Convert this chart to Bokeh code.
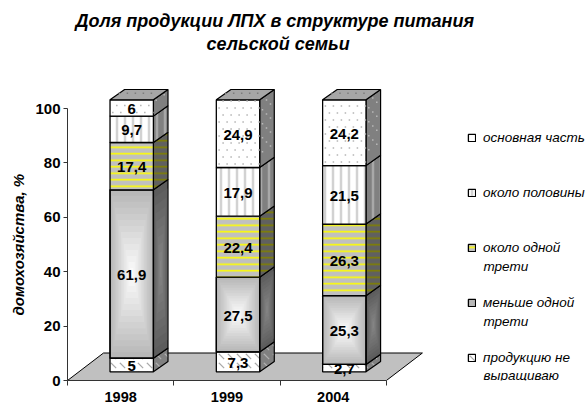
from bokeh.plotting import figure
from bokeh.models import Range1d, FixedTicker, Legend, LegendItem, Title, Label
from bokeh.core.properties import value
from bokeh.embed import file_html
from bokeh.resources import INLINE

years = ["1998", "1999", "2004"]
none_grown = [5, 7.3, 2.7]
under_third = [61.9, 27.5, 25.3]
about_third = [17.4, 22.4, 26.3]
about_half = [9.7, 17.9, 21.5]
main_part = [6, 24.9, 24.2]
series_names = ["продукцию не", "меньше одной", "около одной", "около половины", "основная часть"]
series_names_2 = ["выращиваю", "трети", "трети", "", ""]
series = [none_grown, under_third, about_third, about_half, main_part]
y_ticks = [0, 20, 40, 60, 80, 100]
title_lines = ["Доля продукции ЛПХ в структуре питания", "сельской семьи"]
y_title = "домохозяйства, %"

FONT = "Liberation Sans"
PX_X, PX_Y = 106.3, 2.72          # pixels per data unit
BAR_L, BAR_W = 0.40, 0.408        # bar front, within a category
DX, DY = 14.6 / PX_X, 10.3 / PX_Y  # depth of the 3D extrusion
LIFT = 3.2                        # front plane lift above the axis
FW, FH = 520, 380                 # the frame reaches the top edge so the title lines sit inside it

p = figure(width=587, height=406, output_backend="svg",
           toolbar_location=None, x_range=Range1d(0, FW / PX_X), y_range=Range1d(0, FH / PX_Y),
           min_border_left=67, min_border_right=0, min_border_top=0, min_border_bottom=26,
           outline_line_color=None, background_fill_color="white", border_fill_color="white")
p.grid.visible = False
p.title = None
# chart title: two centred lines above the bars
for line, off, rise in ((title_lines[0], 8, 360), (title_lines[1], 139, 337)):
    p.add_layout(Label(x=off / PX_X, y=rise / PX_Y, text=line, text_font=FONT,
                       text_font_style="bold italic", text_font_size="18px", text_color="black",
                       text_baseline="middle"))
p.add_layout(Title(text=y_title, align="left", offset=65, text_font=FONT,
                   text_font_style="bold italic", text_font_size="15px", text_color="black",
                   standoff=12), "left")

# axes
ax = p.yaxis[0]
ax.ticker = FixedTicker(ticks=y_ticks)
ax.bounds = (0, 100)
ax.major_label_text_font = FONT
ax.major_label_text_font_style = "bold"
ax.major_label_text_font_size = "15px"
ax.major_label_text_color = "black"
ax.major_label_standoff = 3
ax.major_tick_in = 0
ax.major_tick_out = 4
ax.minor_tick_out = 0
ax.minor_tick_in = 0
ax.axis_line_color = "#333333"
ax.major_tick_line_color = "#333333"

bx = p.xaxis[0]
bx.ticker = FixedTicker(ticks=[0.5, 1.5, 2.5], minor_ticks=[0, 1, 2, 3])
bx.bounds = (0, 3)
bx.major_label_overrides = {0.5: years[0], 1.5: years[1], 2.5: years[2]}
bx.major_label_text_font = FONT
bx.major_label_text_font_style = "bold"
bx.major_label_text_font_size = "14.5px"
bx.major_label_text_color = "black"
bx.major_label_standoff = 6
bx.major_tick_in = 0
bx.major_tick_out = 0
bx.minor_tick_in = 0
bx.minor_tick_out = 5
bx.axis_line_color = "#333333"
bx.minor_tick_line_color = "#333333"

# floor
fx, fy = 36 / PX_X, 27.5 / PX_Y
p.patch([0, 3, 3 + fx, fx], [0, 0, fy, fy], fill_color="#c0c0c0", line_color="black", line_width=1)


def lerp(a, b, t):
    c = [round(a[k] + (b[k] - a[k]) * t) for k in range(3)]
    return "#%02x%02x%02x" % tuple(c)


styles = [
    dict(front=dict(fill_color="white", hatch_pattern="left_diagonal_dash", hatch_color="#a8a8a8",
                    hatch_scale=9, hatch_weight=1.2),
         side=dict(fill_color="#808080", hatch_pattern="left_diagonal_dash", hatch_color="#b0b0b0",
                   hatch_scale=9, hatch_weight=1.2)),
    dict(front=dict(fill_color="#b8b8b8"), side=dict(fill_color="#5c5c5c")),
    dict(front=dict(fill_color="#c0c0c0", hatch_pattern="horizontal_line", hatch_color="#ffff00",
                    hatch_scale=6.5, hatch_weight=1.6),
         side=dict(fill_color="#606060", hatch_pattern="horizontal_line", hatch_color="#808000",
                   hatch_scale=6.5, hatch_weight=1.6)),
    dict(front=dict(fill_color="white", hatch_pattern="vertical_line", hatch_color="#d2d2d2",
                    hatch_scale=8, hatch_weight=2.5),
         side=dict(fill_color="#808080", hatch_pattern="vertical_line", hatch_color="#a8a8a8",
                   hatch_scale=8, hatch_weight=2.5)),
    dict(front=dict(fill_color="white"), side=dict(fill_color="#808080")),
]

STEP_X, STEP_Y = 8 / PX_X, 7 / PX_Y     # sparse dot texture of the top segment


def dots(x0, x1, y0, y1, skew=0.0, nudge=True):
    """Staggered dots inside a box; skew lifts y with x for the extruded faces."""
    xs, ys = [], []
    row = 0
    y = y0 + STEP_Y / 2
    while y < y1:
        x = x0 + STEP_X * (0.35 if row % 2 == 0 or not nudge else 0.85)
        while x < x1:
            xs.append(x)
            ys.append(y + skew * (x - x0))
            x += STEP_X
        y += STEP_Y
        row += 1
    return xs, ys


legend_items = []
tx, ty, tl = [], [], []
dot_front, dot_side, dot_top = ([], []), ([], []), ([], [])
for i in range(len(years)):
    xl, xr = i + BAR_L, i + BAR_L + BAR_W
    base = LIFT
    for s, vals in enumerate(series):
        v = vals[i]
        y0, y1 = base, base + v
        st = styles[s]
        # side
        p.patch([xr, xr + DX, xr + DX, xr], [y0, y0 + DY, y1 + DY, y1], line_color="black",
                line_width=1.2, **st["side"])
        if s == 1:
            n = 10
            mx, my = xr + DX / 2, (y0 + y1 + DY) / 2
            for k in range(1, n):
                t = k / n
                xs = [mx + (q - mx) * (1 - t) for q in [xr, xr + DX, xr + DX, xr]]
                ys = [my + (q - my) * (1 - t) for q in [y0, y0 + DY, y1 + DY, y1]]
                p.patch(xs, ys, fill_color=lerp((0x5c,) * 3, (0x88,) * 3, t), line_color=None)
        # front
        r = p.quad(left=xl, right=xr, bottom=y0, top=y1, line_color="black", line_width=1.3,
                   **st["front"])
        if s == 1:
            n = 14
            mx, my = (xl + xr) / 2, (y0 + y1) / 2
            for k in range(1, n):
                t = k / n
                p.quad(left=mx - (mx - xl) * (1 - t), right=mx + (xr - mx) * (1 - t),
                       bottom=my - (my - y0) * (1 - t), top=my + (y1 - my) * (1 - t),
                       fill_color=lerp((0xb8,) * 3, (0xff,) * 3, t), line_color=None)
            p.quad(left=xl, right=xr, bottom=y0, top=y1, fill_color=None, line_color="black",
                   line_width=1.3)
        if s == 4:
            a, b = dots(xl, xr, y0, y1)
            dot_front[0].extend(a); dot_front[1].extend(b)
            a, b = dots(xr, xr + DX, y0 + DY, y1, skew=DY / DX)
            dot_side[0].extend(a); dot_side[1].extend(b)
        if i == 0:
            legend_items.append(LegendItem(label=series_names[s], renderers=[r]))
        tx.append((xl + xr) / 2)
        ty.append((y0 + y1) / 2)
        tl.append(str(v).replace(".", ","))
        base = y1
    # top cap
    p.patch([xl, xl + DX, xr + DX, xr], [base, base + DY, base + DY, base], fill_color="#a6a6a6",
            line_color="black", line_width=1.2)
    a, b = dots(xl + DX * 0.45, xr, base + DY * 0.3, base + DY)
    dot_top[0].extend(a); dot_top[1].extend(b)

p.scatter(dot_front[0], dot_front[1], marker="square", size=1.5, color="#b4b4b4", line_color=None)
p.scatter(dot_side[0], dot_side[1], marker="square", size=1.5, color="#b8b8b8", line_color=None)
p.scatter(dot_top[0], dot_top[1], marker="square", size=1.5, color="#7c7c7c", line_color=None)

p.text(tx, ty, text=tl, text_font=value(FONT), text_font_style="bold", text_font_size="15px",
       text_align="center", text_baseline="middle", text_color="black", y_offset=1)

legend = Legend(items=legend_items[::-1], location=(400, 3), orientation="vertical",
                border_line_color=None, background_fill_alpha=0, margin=0, padding=0,
                spacing=15, glyph_width=9, glyph_height=9, label_standoff=7,
                label_text_font=FONT, label_text_font_style="italic", label_text_font_size="13.5px",
                label_text_color="black", label_height=40)
p.add_layout(legend, "center")

# wrapped second lines of the legend labels
L2_X = 416 / PX_X
L2_Y = [1.84, 21.8, 41.8]
p.text([L2_X] * 3, L2_Y, text=series_names_2[:3], text_font=value(FONT), text_font_style="italic",
       text_font_size="13.5px", text_align="left", text_baseline="middle", text_color="black")

open("out.html", "w").write(file_html(p, INLINE))
